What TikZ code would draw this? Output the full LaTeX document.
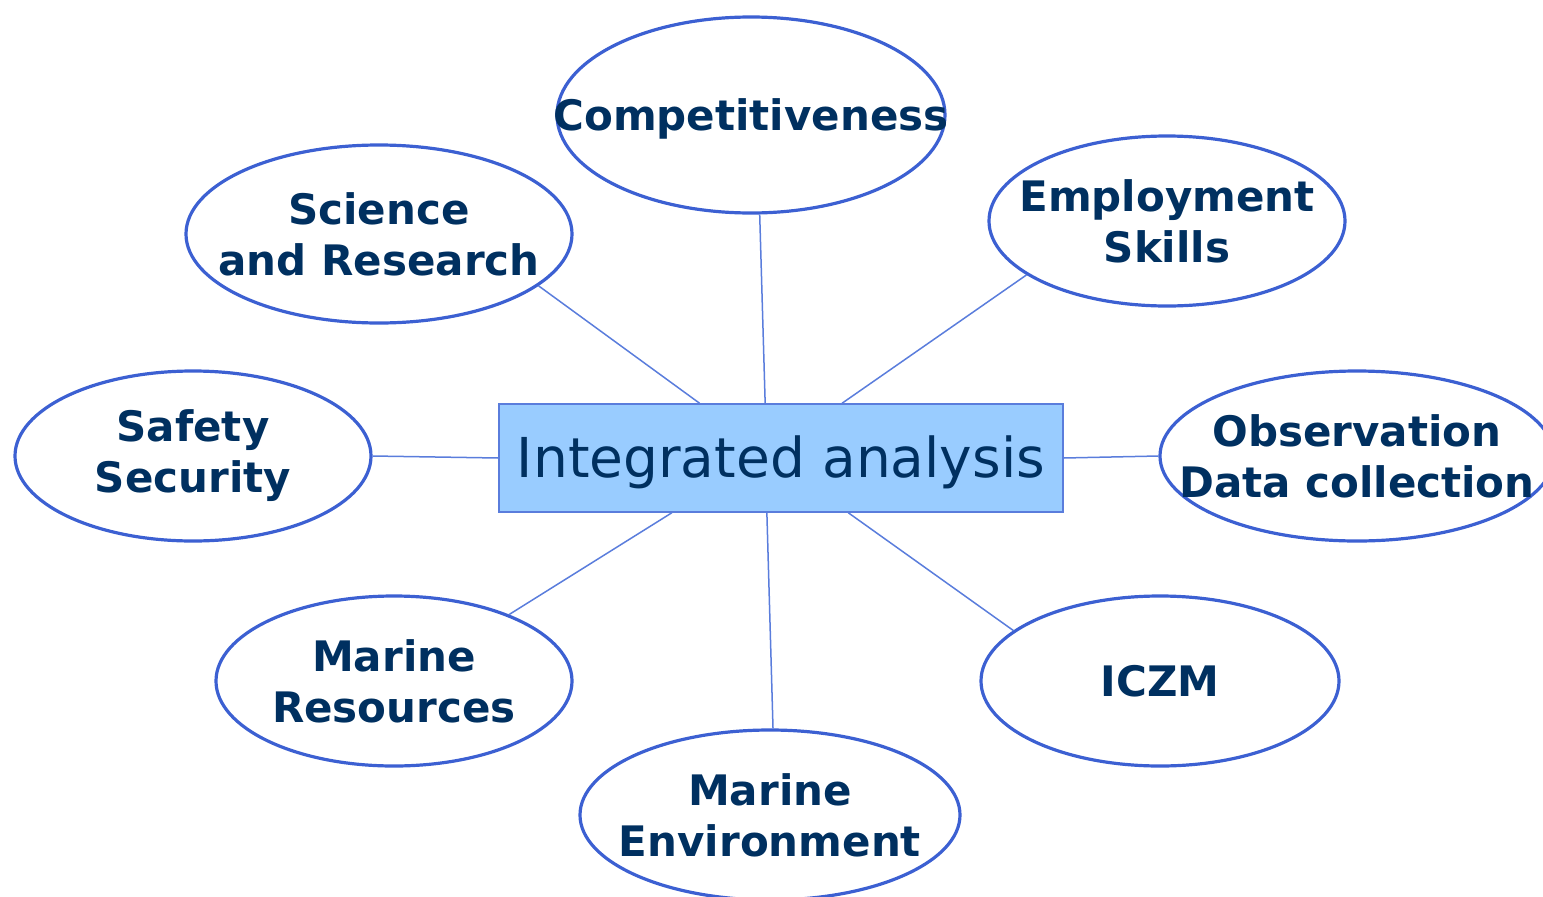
\documentclass[tikz,border=0pt]{standalone}
\usepackage{fontspec}
\setmainfont{DejaVu Sans}
\usetikzlibrary{shapes.geometric,calc}
\definecolor{navy}{RGB}{0,48,96}
\definecolor{ringblue}{RGB}{60,96,210}
\definecolor{linkblue}{RGB}{90,125,220}
\definecolor{boxfill}{RGB}{153,204,255}
\tikzset{
  topic/.style={ellipse, draw=ringblue, line width=3.2pt, inner sep=0pt},
  topictext/.style={inner sep=0pt, align=center, text=navy,
    font=\fontsize{42}{51}\selectfont\bfseries},
  hub/.style={rectangle, draw=linkblue, line width=1.5pt, fill=boxfill, inner sep=0pt,
    minimum width=564pt, minimum height=108pt},
  hubtext/.style={inner sep=0pt, text=navy, font=\fontsize{55}{66}\selectfont},
  link/.style={draw=linkblue, line width=1.5pt}
}
\begin{document}
\begin{tikzpicture}[x=1pt,y=-1pt]
\useasboundingbox (0,0) rectangle (1543,897);
\node[hub, label={[hubtext, yshift=-4pt]center:Integrated analysis}] (hub) at (781,458) {};
\node[topic, minimum width=388pt, minimum height=196pt,
  label={[topictext, yshift=-4pt]center:Competitiveness}] (comp) at (751,115) {};
\node[topic, minimum width=386pt, minimum height=178pt,
  label={[topictext]center:Science\\and Research}] (sci) at (379,234) {};
\node[topic, minimum width=356pt, minimum height=170pt,
  label={[topictext]center:Employment\\Skills}] (emp) at (1167,221) {};
\node[topic, minimum width=356pt, minimum height=170pt,
  label={[topictext]center:Safety\\Security}] (safe) at (193,456) {};
\node[topic, minimum width=394pt, minimum height=170pt,
  label={[topictext]center:Observation\\Data collection}] (obs) at (1357,456) {};
\node[topic, minimum width=356pt, minimum height=170pt,
  label={[topictext]center:Marine\\Resources}] (res) at (394,681) {};
\node[topic, minimum width=358pt, minimum height=170pt,
  label={[topictext]center:ICZM}] (iczm) at (1160,681) {};
\node[topic, minimum width=380pt, minimum height=170pt,
  label={[topictext]center:Marine\\Environment}] (env) at (770,815) {};
\coordinate (t1) at ($(hub.north west)!0.356!(hub.north east)$);
\coordinate (t2) at ($(hub.north west)!0.472!(hub.north east)$);
\coordinate (t3) at ($(hub.north west)!0.608!(hub.north east)$);
\coordinate (b1) at ($(hub.south west)!0.307!(hub.south east)$);
\coordinate (b2) at ($(hub.south west)!0.475!(hub.south east)$);
\coordinate (b3) at ($(hub.south west)!0.619!(hub.south east)$);
\draw[link] (sci.-18) -- (t1);
\draw[link] (comp.-85) -- (t2);
\draw[link] (emp.-159) -- (t3);
\draw[link] (safe.east) -- (hub.west);
\draw[link] (hub.east) -- (obs.west);
\draw[link] (res.30) -- (b1);
\draw[link] (env.88) -- (b2);
\draw[link] (iczm.161) -- (b3);
\end{tikzpicture}
\end{document}
